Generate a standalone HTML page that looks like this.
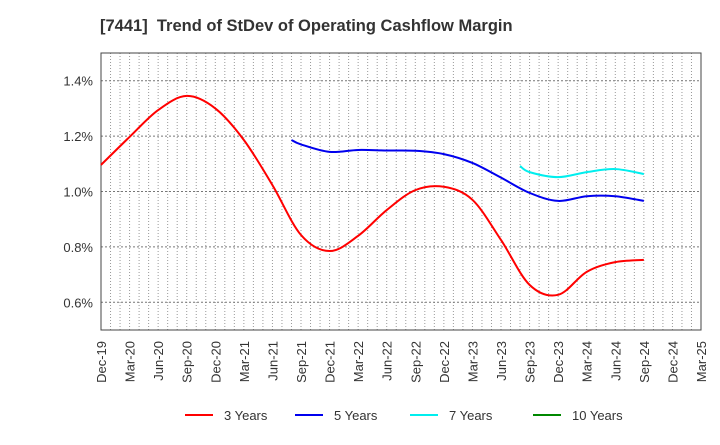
<!DOCTYPE html>
<html><head><meta charset="utf-8"><style>
body{margin:0;background:#fff;font-family:"Liberation Sans",Arial,sans-serif}
svg text{font-family:"Liberation Sans",Arial,sans-serif}
</style></head><body>
<svg id="c" width="720" height="440" xmlns="http://www.w3.org/2000/svg">
<text x="100" y="31" font-size="16.5" font-weight="bold" fill="#333" xml:space="preserve" style="white-space:pre">[7441]  Trend of StDev of Operating Cashflow Margin</text>
<g id="grid"></g><g id="axes"></g><g id="series"></g><g id="legend"></g>
</svg>
<script>
const xLabels=["Dec-19","Mar-20","Jun-20","Sep-20","Dec-20","Mar-21","Jun-21","Sep-21","Dec-21","Mar-22","Jun-22","Sep-22","Dec-22","Mar-23","Jun-23","Sep-23","Dec-23","Mar-24","Jun-24","Sep-24","Dec-24","Mar-25"];
const yTicks=[0.6,0.8,1.0,1.2,1.4];
const m3=[0,3,6,9,12,15,18,21,24,27,30,33,36,39,42,45,48,51,54,57];
const v3=[1.096,1.197,1.294,1.345,1.30,1.186,1.023,0.843,0.785,0.84,0.933,1.005,1.017,0.97,0.825,0.663,0.627,0.71,0.745,0.753];
const m5=[20,21,24,27,30,33,36,39,42,45,48,51,54,57];
const v5=[1.186,1.17,1.143,1.15,1.148,1.147,1.135,1.103,1.05,0.995,0.966,0.983,0.983,0.966];
const m7=[44,45,48,51,54,57];
const v7=[1.092,1.07,1.052,1.07,1.081,1.063];
const m10=[];const v10=[];
const L=101,R=701,T=53,B=330,yMin=0.5,yMax=1.5,months=63;
const X=m=>L+(R-L)*m/months, Y=v=>B-(B-T)*(v-yMin)/(yMax-yMin);
const NS="http://www.w3.org/2000/svg";
function mk(tag,attrs,parent){const e=document.createElementNS(NS,tag);for(const k in attrs)e.setAttribute(k,attrs[k]);parent.appendChild(e);return e;}
const grid=document.getElementById('grid'),axes=document.getElementById('axes'),ser=document.getElementById('series'),leg=document.getElementById('legend');
for(let m=1;m<months;m++){const g=mk('line',{x1:X(m),x2:X(m),y1:T,y2:B,stroke:'#999','stroke-width':1,'stroke-dasharray':'1,2'},grid);

}
yTicks.forEach(v=>{const g=mk('line',{x1:L,x2:R,y1:Y(v),y2:Y(v),stroke:'#777','stroke-width':1,'stroke-dasharray':'2,2'},grid);


const t=mk('text',{x:L-8,y:Y(v)+5,'font-size':13,fill:'#333','text-anchor':'end'},axes);t.textContent=v.toFixed(1)+'%';

});
const fr=mk('rect',{x:L,y:T,width:R-L,height:B-T,fill:'none',stroke:'#444','stroke-width':1},axes);


xLabels.forEach((s,i)=>{const x=X(i*3)+5;const t=mk('text',{x:x,y:341,'font-size':13,fill:'#333','text-anchor':'end',transform:`rotate(-90 ${x} 341)`},axes);t.textContent=s;

});
function path(ms,vs){const p=ms.map((m,i)=>[X(m),Y(vs[i])]);if(!p.length)return'';let d=`M${p[0][0]},${p[0][1]}`;
for(let i=0;i<p.length-1;i++){const p0=p[i-1]||p[i],p1=p[i],p2=p[i+1],p3=p[i+2]||p2;
d+=` C${p1[0]+(p2[0]-p0[0])/6},${p1[1]+(p2[1]-p0[1])/6} ${p2[0]-(p3[0]-p1[0])/6},${p2[1]-(p3[1]-p1[1])/6} ${p2[0]},${p2[1]}`;}return d;}
const S=[["3 Years",m3,v3,"#ff0000"],["5 Years",m5,v5,"#0000ee"],["7 Years",m7,v7,"#00eeee"],["10 Years",m10,v10,"#008800"]];
const lx=[185,295,410,533];
S.forEach((s,i)=>{if(s[1].length){const p=mk('path',{d:path(s[1],s[2]),fill:'none',stroke:s[3],'stroke-width':2},ser);

}
const g=mk('g',{},leg);


mk('line',{x1:lx[i],x2:lx[i]+28,y1:415,y2:415,stroke:s[3],'stroke-width':2},g);
const t=mk('text',{x:lx[i]+39,y:420,'font-size':13,fill:'#333'},g);t.textContent=s[0];});
</script>
</body></html>
